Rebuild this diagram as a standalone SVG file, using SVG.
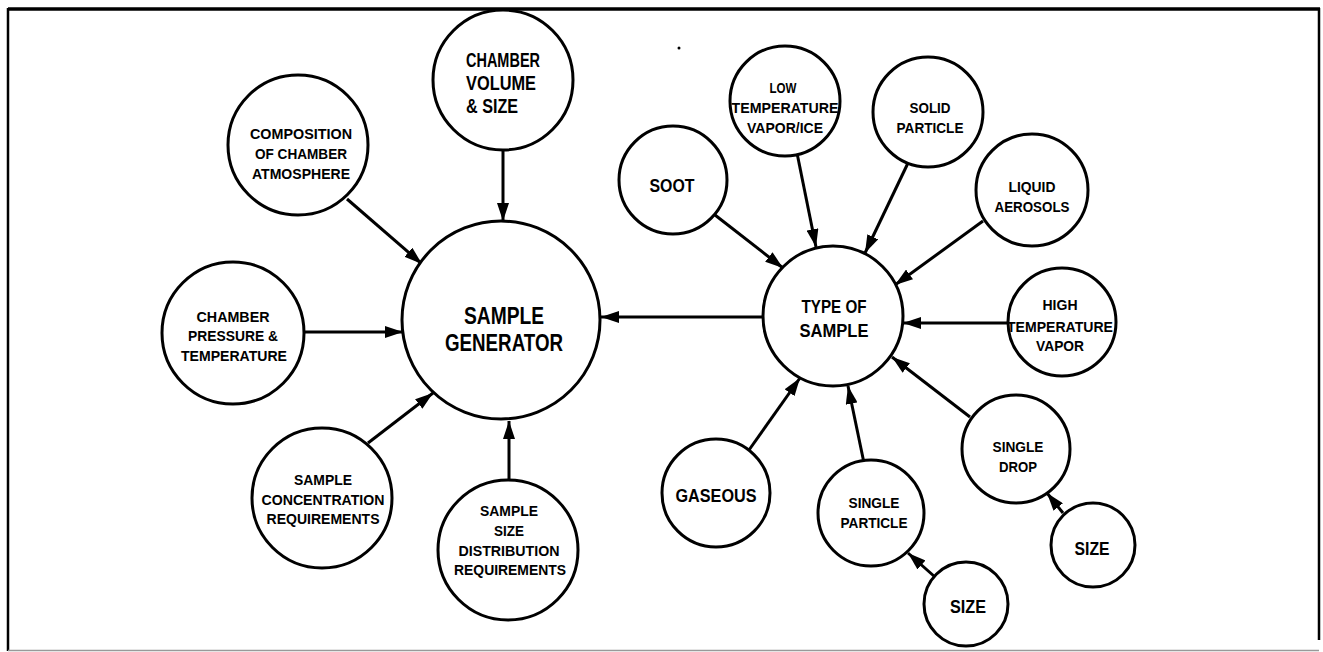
<svg xmlns="http://www.w3.org/2000/svg" width="1323" height="652" viewBox="0 0 1323 652">
<style>
.node{fill:#fff;stroke:#000;stroke-width:3}
.t{font-family:"Liberation Sans",Arial,sans-serif;font-weight:bold;fill:#000;text-anchor:middle}
.s{font-size:15px}
.m{font-size:19px}
.l{font-size:23px}
.v{font-size:19.5px;text-anchor:start}
.c{stroke:#000;stroke-width:3;fill:none;marker-end:url(#ah)}
</style>
<defs>
<marker id="ah" markerUnits="userSpaceOnUse" markerWidth="18" markerHeight="12" refX="18" refY="6" orient="auto" viewBox="0 0 18 12">
<path d="M0,0 L18,6 L0,12 Z" fill="#000"/>
</marker>
</defs>
<rect width="1323" height="652" fill="#fff"/>
<g id="frame" fill="none" stroke="#000">
<line x1="8" y1="9" x2="1320" y2="9" stroke-width="3.5"/>
<line x1="8" y1="8" x2="8" y2="651" stroke-width="2.5"/>
<line x1="1319" y1="8" x2="1319" y2="640" stroke-width="2.5"/>
<line x1="8" y1="650.5" x2="1319" y2="650.5" stroke-width="1.5" stroke="#999"/>
</g>
<circle cx="679" cy="48" r="1.5" fill="#000"/>
<g id="connectors">
<line class="c" x1="347" y1="199" x2="422" y2="264"/>
<line class="c" x1="503" y1="151" x2="503" y2="221"/>
<line class="c" x1="304" y1="332" x2="403" y2="332"/>
<line class="c" x1="368" y1="443" x2="433" y2="393"/>
<line class="c" x1="509" y1="480" x2="509" y2="421"/>
<line class="c" x1="763" y1="317" x2="601" y2="317"/>
<line class="c" x1="715" y1="215" x2="783" y2="268"/>
<line class="c" x1="797" y1="153" x2="816" y2="247"/>
<line class="c" x1="908" y1="163" x2="865" y2="253"/>
<line class="c" x1="983" y1="221" x2="895" y2="285"/>
<line class="c" x1="1007" y1="323" x2="903" y2="323"/>
<line class="c" x1="970" y1="417" x2="892" y2="357"/>
<line class="c" x1="1063" y1="513" x2="1047" y2="493"/>
<line class="c" x1="749" y1="450" x2="800" y2="378"/>
<line class="c" x1="864" y1="463" x2="848" y2="386"/>
<line class="c" x1="935" y1="577" x2="908" y2="553"/>
</g>
<g id="sample-generator">
<circle class="node" cx="501" cy="320" r="99"/>
<text class="t l" x="504" y="324" textLength="80" lengthAdjust="spacingAndGlyphs">SAMPLE</text>
<text class="t l" x="504" y="351" textLength="118" lengthAdjust="spacingAndGlyphs">GENERATOR</text>
</g>
<g id="chamber-volume">
<circle class="node" cx="503" cy="80" r="70"/>
<text class="t v" x="466" y="67" textLength="74" lengthAdjust="spacingAndGlyphs">CHAMBER</text>
<text class="t v" x="466" y="90" textLength="70" lengthAdjust="spacingAndGlyphs">VOLUME</text>
<text class="t v" x="466" y="113" textLength="52" lengthAdjust="spacingAndGlyphs">&amp; SIZE</text>
</g>
<g id="composition">
<circle class="node" cx="298" cy="145" r="70"/>
<text class="t s" x="301" y="139" textLength="102" lengthAdjust="spacingAndGlyphs">COMPOSITION</text>
<text class="t s" x="301" y="159" textLength="92" lengthAdjust="spacingAndGlyphs">OF CHAMBER</text>
<text class="t s" x="301" y="179" textLength="98" lengthAdjust="spacingAndGlyphs">ATMOSPHERE</text>
</g>
<g id="chamber-pressure">
<circle class="node" cx="233" cy="333" r="71"/>
<text class="t s" x="233" y="322" textLength="73" lengthAdjust="spacingAndGlyphs">CHAMBER</text>
<text class="t s" x="233" y="341" textLength="90" lengthAdjust="spacingAndGlyphs">PRESSURE &amp;</text>
<text class="t s" x="234" y="361" textLength="106" lengthAdjust="spacingAndGlyphs">TEMPERATURE</text>
</g>
<g id="sample-concentration">
<circle class="node" cx="322" cy="498" r="70"/>
<text class="t s" x="323" y="485" textLength="58" lengthAdjust="spacingAndGlyphs">SAMPLE</text>
<text class="t s" x="323" y="505" textLength="123" lengthAdjust="spacingAndGlyphs">CONCENTRATION</text>
<text class="t s" x="323" y="524" textLength="113" lengthAdjust="spacingAndGlyphs">REQUIREMENTS</text>
</g>
<g id="sample-size-distribution">
<circle class="node" cx="508" cy="550" r="70"/>
<text class="t s" x="509" y="516" textLength="58" lengthAdjust="spacingAndGlyphs">SAMPLE</text>
<text class="t s" x="509" y="536" textLength="30" lengthAdjust="spacingAndGlyphs">SIZE</text>
<text class="t s" x="509" y="556" textLength="101" lengthAdjust="spacingAndGlyphs">DISTRIBUTION</text>
<text class="t s" x="510" y="575" textLength="112" lengthAdjust="spacingAndGlyphs">REQUIREMENTS</text>
</g>
<g id="type-of-sample">
<circle class="node" cx="833" cy="316" r="70"/>
<text class="t m" x="834" y="313" textLength="65" lengthAdjust="spacingAndGlyphs">TYPE OF</text>
<text class="t m" x="834" y="337" textLength="69" lengthAdjust="spacingAndGlyphs">SAMPLE</text>
</g>
<g id="soot">
<circle class="node" cx="673" cy="180" r="54"/>
<text class="t m" x="672" y="192" textLength="45" lengthAdjust="spacingAndGlyphs">SOOT</text>
</g>
<g id="low-temperature">
<circle class="node" cx="785" cy="101" r="55"/>
<text class="t s" x="783" y="93" textLength="27" lengthAdjust="spacingAndGlyphs">LOW</text>
<text class="t s" x="785" y="113" textLength="107" lengthAdjust="spacingAndGlyphs">TEMPERATURE</text>
<text class="t s" x="785" y="133" textLength="76" lengthAdjust="spacingAndGlyphs">VAPOR/ICE</text>
</g>
<g id="solid-particle">
<circle class="node" cx="928" cy="112" r="55"/>
<text class="t s" x="930" y="113" textLength="41" lengthAdjust="spacingAndGlyphs">SOLID</text>
<text class="t s" x="930" y="133" textLength="67" lengthAdjust="spacingAndGlyphs">PARTICLE</text>
</g>
<g id="liquid-aerosols">
<circle class="node" cx="1032" cy="190" r="56"/>
<text class="t s" x="1032" y="192" textLength="47" lengthAdjust="spacingAndGlyphs">LIQUID</text>
<text class="t s" x="1032" y="212" textLength="75" lengthAdjust="spacingAndGlyphs">AEROSOLS</text>
</g>
<g id="high-temperature">
<circle class="node" cx="1062" cy="322" r="54"/>
<text class="t s" x="1060" y="310" textLength="35" lengthAdjust="spacingAndGlyphs">HIGH</text>
<text class="t s" x="1060" y="332" textLength="106" lengthAdjust="spacingAndGlyphs">TEMPERATURE</text>
<text class="t s" x="1060" y="351" textLength="48" lengthAdjust="spacingAndGlyphs">VAPOR</text>
</g>
<g id="single-drop">
<circle class="node" cx="1016" cy="449" r="54"/>
<text class="t s" x="1018" y="452" textLength="51" lengthAdjust="spacingAndGlyphs">SINGLE</text>
<text class="t s" x="1018" y="472" textLength="38" lengthAdjust="spacingAndGlyphs">DROP</text>
</g>
<g id="size-drop">
<circle class="node" cx="1093" cy="545" r="42"/>
<text class="t m" x="1092" y="555" textLength="35" lengthAdjust="spacingAndGlyphs">SIZE</text>
</g>
<g id="gaseous">
<circle class="node" cx="716" cy="493" r="54"/>
<text class="t m" x="716" y="502" textLength="81" lengthAdjust="spacingAndGlyphs">GASEOUS</text>
</g>
<g id="single-particle">
<circle class="node" cx="871" cy="513" r="53"/>
<text class="t s" x="874" y="508" textLength="51" lengthAdjust="spacingAndGlyphs">SINGLE</text>
<text class="t s" x="874" y="528" textLength="67" lengthAdjust="spacingAndGlyphs">PARTICLE</text>
</g>
<g id="size-particle">
<circle class="node" cx="966" cy="604" r="42"/>
<text class="t m" x="968" y="613" textLength="36" lengthAdjust="spacingAndGlyphs">SIZE</text>
</g>
</svg>
